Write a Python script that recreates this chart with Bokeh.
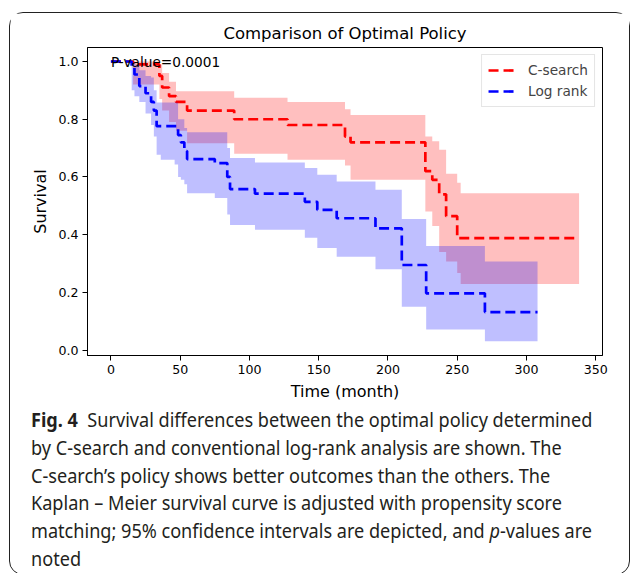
from bokeh.plotting import figure
from bokeh.models import Div, Range1d, NumeralTickFormatter, FixedTicker, Label, ColumnDataSource
from bokeh.layouts import column
from bokeh.embed import file_html
from bokeh.resources import INLINE

# ---------------- data ----------------
title_text = "Comparison of Optimal Policy"
x_label = "Time (month)"
y_label = "Survival"
pval_text = "P-value=0.0001"
series_names = ["C-search", "Log rank"]

x_ticks = [0, 50, 100, 150, 200, 250, 300, 350]
y_ticks = [0.0, 0.2, 0.4, 0.6, 0.8, 1.0]

# C-search Kaplan-Meier estimate and 95% CI (step "after")
red_time = [0, 16, 35, 37, 42, 47, 55, 89, 127.5, 169, 173, 227, 232, 237, 242, 250, 252.5, 338]
red_surv = [1.0, 0.99, 0.95, 0.91, 0.88, 0.86, 0.83, 0.80, 0.78, 0.74, 0.72, 0.62, 0.59, 0.54, 0.464, 0.388, 0.388, 0.388]
red_lo = [1.0, 0.92, 0.87, 0.83, 0.79, 0.76, 0.717, 0.68, 0.66, 0.64, 0.59, 0.48, 0.43, 0.34, 0.307, 0.267, 0.229, 0.229]
red_hi = [1.0, 1.0, 0.99, 0.96, 0.93, 0.897, 0.897, 0.874, 0.86, 0.835, 0.815, 0.74, 0.724, 0.694, 0.611, 0.58, 0.544, 0.544]

# Log rank Kaplan-Meier estimate and 95% CI
blue_time = [0, 15, 17, 20.5, 25, 29, 31, 33, 36, 46, 48.5, 50.5, 53, 55, 75, 84, 86, 104, 140, 149, 163, 191, 210, 227.6, 270, 308]
blue_surv = [1.0, 0.98, 0.955, 0.915, 0.89, 0.86, 0.83, 0.776, 0.776, 0.776, 0.745, 0.72, 0.69, 0.662, 0.648, 0.60, 0.558, 0.542, 0.514, 0.486, 0.457, 0.422, 0.295, 0.197, 0.132, 0.132]
blue_lo = [1.0, 0.90, 0.88, 0.86, 0.82, 0.78, 0.74, 0.677, 0.66, 0.643, 0.60, 0.59, 0.575, 0.544, 0.527, 0.47, 0.434, 0.417, 0.389, 0.354, 0.324, 0.28, 0.15, 0.072, 0.031, 0.031]
blue_hi = [1.0, 0.995, 0.99, 0.97, 0.95, 0.945, 0.90, 0.858, 0.858, 0.858, 0.80, 0.80, 0.77, 0.755, 0.755, 0.70, 0.666, 0.65, 0.631, 0.608, 0.584, 0.556, 0.454, 0.361, 0.307, 0.307]

caption_lines = [
    "<b>Fig.&nbsp;4</b>&nbsp; Survival differences between the optimal policy determined",
    "by C-search and conventional log-rank analysis are shown. The",
    "C-search\u2019s policy shows better outcomes than the others. The",
    "Kaplan \u2013 Meier survival curve is adjusted with propensity score",
    "matching; 95% confidence intervals are depicted, and <i>p</i>-values are",
    "noted",
]

# ---------------- figure ----------------
FONT = "DejaVu Sans"
p = figure(frame_width=515, frame_height=308,
           min_border_left=77, min_border_right=27, min_border_top=34, min_border_bottom=50,
           x_range=Range1d(-16.9, 354.9), y_range=Range1d(-0.0185, 1.0485),
           output_backend="svg", toolbar_location=None, title=title_text,
           styles={"flex-shrink": "0"})

p.title.align = "center"
p.title.text_font = FONT
p.title.text_font_size = "16.5px"
p.title.text_font_style = "normal"
p.title.text_color = "black"

red_src = ColumnDataSource(dict(t=red_time, s=red_surv, lo=red_lo, hi=red_hi))
blue_src = ColumnDataSource(dict(t=blue_time, s=blue_surv, lo=blue_lo, hi=blue_hi))

p.varea_step(x="t", y1="lo", y2="hi", step_mode="after", source=red_src,
             fill_color="#ff0000", fill_alpha=0.25)
p.step(x="t", y="s", mode="after", source=red_src, line_color="#ff0000",
       line_width=2.7, line_dash="10 5", legend_label=series_names[0])
p.varea_step(x="t", y1="lo", y2="hi", step_mode="after", source=blue_src,
             fill_color="#0000ff", fill_alpha=0.25)
p.step(x="t", y="s", mode="after", source=blue_src, line_color="#0000ff",
       line_width=2.7, line_dash="10 5", legend_label=series_names[1])

p.add_layout(Label(x=0, y=1.0, text=pval_text, text_font=FONT, text_font_size="13.7px",
                   text_baseline="alphabetic", text_align="left", text_color="black"))

p.grid.visible = False
p.outline_line_color = "black"
p.outline_line_width = 1

p.xaxis.ticker = FixedTicker(ticks=x_ticks)
p.yaxis.ticker = FixedTicker(ticks=y_ticks)
p.yaxis.formatter = NumeralTickFormatter(format="0.0")
p.xaxis.axis_label = x_label
p.yaxis.axis_label = y_label
for ax in (p.xaxis, p.yaxis):
    ax.axis_line_color = "black"
    ax.major_tick_line_color = "black"
    ax.minor_tick_line_color = None
    ax.major_tick_out = 5
    ax.major_tick_in = 0
    ax.major_label_standoff = 4
    ax.major_label_text_font = FONT
    ax.major_label_text_font_size = "12.6px"
    ax.major_label_text_color = "black"
    ax.axis_label_text_font = FONT
    ax.axis_label_text_font_size = "16px"
    ax.axis_label_text_font_style = "normal"
    ax.axis_label_text_color = "black"
    ax.axis_label_standoff = 5

lg = p.legend[0]
lg.location = "top_right"
lg.margin = 7
lg.padding = 6
lg.spacing = 3
lg.glyph_width = 28
lg.glyph_height = 18
lg.label_height = 18
lg.label_standoff = 12
lg.label_text_font = FONT
lg.label_text_font_size = "13.7px"
lg.border_line_color = "#cccccc"
lg.border_line_width = 1
lg.background_fill_alpha = 0.8

caption_html = (
    "<div style=\"transform: scaleX(0.905); transform-origin: 0 0; white-space: nowrap; "
    "margin-top: -4px;\">"
    + "<br>".join(caption_lines) + "</div>"
)
cap = Div(text=caption_html, width=619, height=168,
          styles={"font-family": "'Noto Sans', sans-serif",
                  "font-size": "20px", "line-height": "27.8px", "color": "#231f20",
                  "padding-left": "16px", "box-sizing": "border-box", "overflow": "visible"})

layout = column(p, cap, margin=(12, 0, 0, 9), width=621, height=563,
                styles={"border": "1.3px solid #222", "border-radius": "14px",
                        "box-sizing": "border-box"})

open("out.html", "w").write(file_html(layout, INLINE))
